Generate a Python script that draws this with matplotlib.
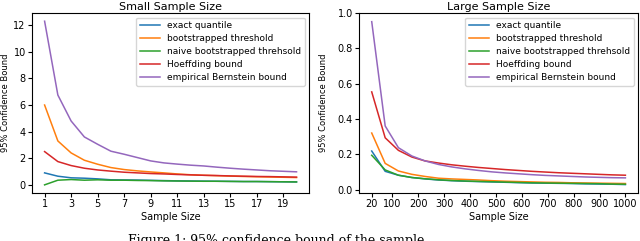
import matplotlib
matplotlib.use("Agg")
import matplotlib.pyplot as plt

# small sample sizes
small_n = list(range(1, 21))
small_exact = [0.9, 0.65, 0.53, 0.5, 0.45, 0.38, 0.37, 0.36, 0.34, 0.32,
               0.3, 0.29, 0.28, 0.27, 0.26, 0.25, 0.25, 0.24, 0.23, 0.22]
small_boot = [6.0, 3.3, 2.4, 1.85, 1.55, 1.3, 1.15, 1.05, 0.97, 0.9,
              0.82, 0.76, 0.72, 0.69, 0.66, 0.63, 0.61, 0.59, 0.57, 0.55]
small_naive = [0.0, 0.35, 0.4, 0.35, 0.38, 0.35, 0.35, 0.33, 0.32, 0.3,
               0.29, 0.28, 0.27, 0.27, 0.26, 0.25, 0.25, 0.24, 0.23, 0.22]
small_hoeff = [2.5, 1.75, 1.45, 1.25, 1.12, 1.03, 0.95, 0.9, 0.85, 0.82,
               0.78, 0.75, 0.72, 0.7, 0.67, 0.65, 0.63, 0.62, 0.6, 0.58]
small_bern = [12.3, 6.75, 4.8, 3.6, 3.05, 2.53, 2.3, 2.05, 1.8, 1.65,
              1.56, 1.48, 1.42, 1.33, 1.25, 1.18, 1.12, 1.06, 1.02, 0.98]

# large sample sizes
large_n = [20, 72, 123, 175, 226, 278, 329, 381, 432, 484,
           536, 587, 639, 690, 742, 793, 845, 896, 948, 1000]
large_exact = [0.218, 0.103, 0.081, 0.068, 0.06, 0.054, 0.05, 0.047, 0.045, 0.043,
               0.041, 0.039, 0.037, 0.036, 0.035, 0.034, 0.032, 0.031, 0.03, 0.028]
large_boot = [0.32, 0.148, 0.105, 0.086, 0.074, 0.064, 0.06, 0.057, 0.054, 0.05,
              0.047, 0.045, 0.043, 0.041, 0.04, 0.038, 0.037, 0.036, 0.035, 0.034]
large_naive = [0.194, 0.111, 0.081, 0.068, 0.061, 0.055, 0.051, 0.048, 0.046, 0.044,
               0.042, 0.04, 0.038, 0.037, 0.036, 0.035, 0.034, 0.033, 0.031, 0.03]
large_hoeff = [0.553, 0.293, 0.222, 0.184, 0.162, 0.15, 0.14, 0.132, 0.125, 0.119,
               0.113, 0.108, 0.103, 0.099, 0.095, 0.092, 0.089, 0.086, 0.083, 0.081]
large_bern = [0.951, 0.36, 0.237, 0.19, 0.162, 0.142, 0.128, 0.117, 0.108, 0.1,
              0.094, 0.089, 0.084, 0.08, 0.077, 0.074, 0.071, 0.069, 0.067, 0.066]

labels = ["exact quantile", "bootstrapped threshold", "naive bootstrapped threhsold",
          "Hoeffding bound", "empirical Bernstein bound"]

small_ticks = list(range(1, 21, 2))
large_ticks = [20, 100, 200, 300, 400, 500, 600, 700, 800, 900, 1000]

plt.rcParams["font.size"] = 7

fig = plt.figure(figsize=(6.4, 2.41), dpi=100)
ax1 = fig.add_axes([0.05, 0.199, 0.433, 0.747])
ax2 = fig.add_axes([0.561, 0.199, 0.436, 0.747])

panels = [
    (ax1, small_n, [small_exact, small_boot, small_naive, small_hoeff, small_bern],
     "Small Sample Size", small_ticks, -0.078),
    (ax2, large_n, [large_exact, large_boot, large_naive, large_hoeff, large_bern],
     "Large Sample Size", large_ticks, -0.11),
]

for ax, xs, series, title, ticks, ylab_x in panels:
    for ys, lab in zip(series, labels):
        ax.plot(xs, ys, label=lab, linewidth=1.1)
    ax.set_title(title, fontsize=8, pad=2)
    ax.set_xticks(ticks)
    ax.set_xlabel("Sample Size", fontsize=7, labelpad=2)
    ax.set_ylabel("95% Confidence Bound", fontsize=6)
    ax.yaxis.set_label_coords(ylab_x, 0.5)
    ax.tick_params(labelsize=7, length=3, pad=1.5)
    ax.legend(loc="upper right", fontsize=6.5, handlelength=2.2,
              borderpad=0.4, labelspacing=0.45)

ax2.set_ylim(-0.02, 1.0)

fig.text(0.2, 0.03, "Figure 1: 95% confidence bound of the sample",
         fontsize=9, family="DejaVu Serif", va="top", ha="left")

plt.savefig("out.png", dpi=100)
